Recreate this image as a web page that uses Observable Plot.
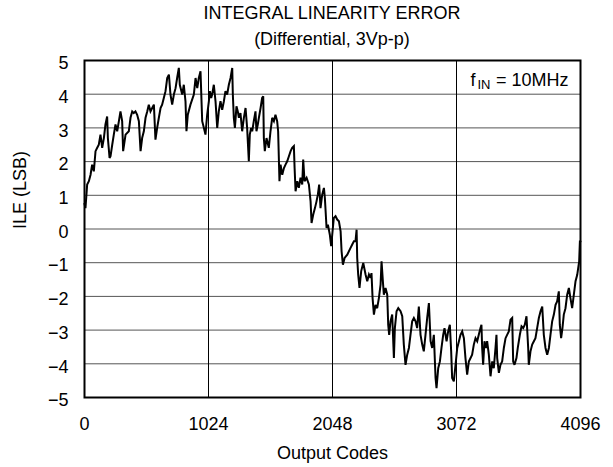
<!DOCTYPE html>
<html><head><meta charset="utf-8">
<script src="https://cdn.jsdelivr.net/npm/d3@7"></script>
<script src="https://cdn.jsdelivr.net/npm/@observablehq/plot@0.6"></script>
<style>
html,body{margin:0;padding:0;background:#fff;}
#wrap{position:relative;width:613px;height:467px;font-family:"Liberation Sans",Arial,Helvetica,sans-serif;color:#000;}
#head{position:relative;height:50px;}
.t{position:absolute;left:84px;width:496px;text-align:center;font-size:18px;line-height:22px;white-space:nowrap;}
</style></head><body>
<div id="wrap"><div id="head"><div class="t" id="title" style="top:2px"></div><div class="t" id="subtitle" style="top:28px"></div></div><div id="chart"></div></div>
<script>
const titleText = "INTEGRAL LINEARITY ERROR";
const subtitleText = "(Differential, 3Vp-p)";
const xLabel = "Output Codes";
const yLabel = "ILE (LSB)";
const xTicks = [0, 1024, 2048, 3072, 4096];
const yTicks = [-5, -4, -3, -2, -1, 0, 1, 2, 3, 4, 5];
const noteMain = "f";
const noteSub = "IN";
const noteRest = "= 10MHz";

const codes = [
  0,8,22,36,50,63,77,91,105,118,132,146,160,173,187,193,207,215,229,242,256,270,284,297,311,319,339,366,380,394,407,
  421,435,449,463,476,490,504,518,531,545,559,573,586,600,614,628,641,655,669,683,697,710,724,738,752,765,779,787,807,820,
  834,842,853,875,903,917,931,944,
  958,972,986,999,1013,1027,1035,1046,1054,1068,1082,1096,1109,1123,1137,1151,1164,1178,1192,1206,
  1220,1225,1233,1242,1255,1266,1275,1288,1302,1316,1330,1343,1357,1365,1376,1385,1398,1412,1420,1431,
  1440,1454,1467,1476,1481,1489,1503,1522,1536,1550,1564,1577,1591,1599,1610,
  1619,1633,1647,1660,1674,1688,1702,1715,1729,1735,1743,1757,1770,1784,1798,1806,1817,1834,1853,1867,
  1875,1889,1903,1916,1927,1938,1949,1963,1977,1985,1999,2010,2026,2037,2051,2059,2073,2087,2101,2115,
  2123,2134,2148,2170,2197,2211,2225,2238,2247,2252,2260,2271,2285,2302,2321,2335,2349,
  2362,2370,2379,2390,2403,2417,2431,2445,2453,2464,2472,2486,2500,2508,2516,2527,2541,2555,2563,2577,
  2591,2610,2624,2637,2651,2665,2679,2692,2706,2720,2734,2747,2761,2775,2789,2802,2816,2830,2844,2858,
  2871,2885,2899,2907,2921,2935,2948,2962,2973,2990,3003,3017,3028,3036,3050,3064,3078,3092,
  3105,3119,3133,3146,3160,3174,3188,3201,3215,3229,3243,3256,3270,3278,3284,3292,3303,3317,3325,3339,
  3353,3367,3380,3394,3402,3408,3422,3435,3449,3463,3477,3490,3504,3518,3532,3540,3551,3567,3578,3595,
  3609,3623,3636,3650,3664,3669,3683,3697,3711,3724,3738,3752,3766,3780,3793,3807,3821,3835,3848,3862,
  3876,3890,3903,3917,3925,3936,3947,3958,3972,3986,4000,4013,4027,4041,4055,4069,4077,4085,4091,4096
];
const ile = [
  0.75,0.62,1.32,1.42,1.61,1.91,1.71,2.31,2.41,2.50,2.80,2.41,2.70,3.10,3.34,2.70,2.11,2.16,2.50,2.80,3.10,2.90,3.20,3.49,3.20,2.31,2.80,2.90,3.30,3.49,3.44,
  3.49,3.39,3.20,2.31,2.70,2.90,3.30,3.49,3.69,3.49,3.59,3.69,2.65,3.00,3.30,3.59,3.69,3.89,4.09,4.48,4.58,3.99,3.69,3.99,4.18,4.48,4.78,4.28,3.99,4.28,
  3.79,2.90,3.39,3.69,3.99,4.48,4.18,4.48,
  4.68,3.20,3.00,2.80,3.39,3.79,4.09,3.89,3.99,4.28,3.79,3.00,3.49,3.79,3.54,3.79,4.09,3.99,4.28,4.48,
  4.78,3.99,3.30,3.00,3.64,3.49,3.30,3.44,2.90,3.30,3.59,3.00,2.01,2.80,3.00,2.90,3.20,3.49,2.90,3.10,
  3.30,3.59,3.89,3.94,2.70,2.31,2.70,2.41,2.90,3.30,3.20,3.39,3.20,2.90,1.42,
  1.91,1.61,1.81,1.91,2.01,2.16,2.31,2.41,2.46,1.81,1.12,1.42,1.22,1.52,1.32,2.06,1.42,1.52,1.32,0.82,
  0.18,0.43,0.62,0.82,1.02,1.32,0.62,1.02,1.22,0.92,0.03,0.13,-0.17,-0.51,0.03,0.33,0.38,0.28,0.23,-0.07,
  -0.66,-1.06,-0.86,-0.76,-0.56,-0.46,-0.36,-0.36,-0.02,-0.86,-1.35,-1.75,-1.25,-1.01,-1.35,-1.55,-1.35,
  -1.45,-1.31,-2.05,-2.54,-2.25,-2.35,-2.05,-1.65,-0.96,-1.55,-1.95,-1.75,-1.95,-2.84,-3.14,-2.74,-2.54,-3.83,-2.94,-2.44,
  -2.35,-2.44,-2.59,-3.43,-4.03,-3.73,-3.53,-3.14,-2.74,-2.64,-2.74,-2.94,-2.30,-3.14,-3.43,-3.63,-3.14,-2.64,-2.20,-3.33,
  -3.53,-3.14,-4.42,-4.72,-4.13,-3.93,-3.53,-3.14,-2.94,-3.33,-3.04,-2.84,-3.63,-4.42,-4.52,-4.03,-3.53,-3.33,
  -3.14,-3.04,-3.24,-3.83,-4.32,-3.93,-3.83,-3.73,-3.43,-3.24,-3.33,-3.14,-2.94,-2.84,-3.53,-4.03,-3.33,-3.53,-3.33,-3.73,
  -4.37,-3.93,-4.13,-3.53,-3.14,-3.83,-4.27,-4.03,-3.93,-3.53,-3.24,-3.14,-3.04,-2.69,-2.64,-3.93,-4.03,-3.83,-3.53,-3.14,
  -2.89,-2.94,-2.84,-2.59,-3.53,-4.03,-3.63,-3.43,-3.33,-3.24,-2.94,-2.64,-2.44,-2.30,-3.14,-3.53,-3.73,-3.53,-3.14,-2.74,
  -2.54,-2.25,-2.15,-1.85,-2.84,-3.24,-2.94,-2.54,-2.35,-1.95,-1.75,-2.05,-2.35,-1.95,-1.55,-1.36,-1.16,-0.96,-0.37,-0.37
];

document.getElementById("title").textContent = titleText;
document.getElementById("subtitle").textContent = subtitleText;

const data = codes.map((c, i) => ({code: c, ile: ile[i]}));

const chart = Plot.plot({
  width: 613, height: 417,
  marginLeft: 84, marginRight: 33, marginTop: 10, marginBottom: 70,
  style: {fontFamily: "'Liberation Sans', Arial, sans-serif", fontSize: "18px", background: "white", color: "black", overflow: "visible"},
  x: {domain: [0, 4096], label: null},
  y: {domain: [-5, 5], label: null},
  marks: [
    Plot.gridY(yTicks, {stroke: "#555", strokeOpacity: 1, strokeWidth: 1}),
    Plot.gridX(xTicks, {stroke: "#000", strokeOpacity: 1, strokeWidth: 1}),
    Plot.line(data, {x: "code", y: "ile", stroke: "black", strokeWidth: 2, strokeLinejoin: "miter", strokeMiterlimit: 3}),
    Plot.frame({stroke: "black", strokeWidth: 2}),
    Plot.axisX(xTicks, {tickSize: 0, tickPadding: 20, label: null, tickFormat: d => String(d)}),
    Plot.axisY(yTicks, {tickSize: 0, tickPadding: 16, dy: 3, label: null}),
    Plot.text([xLabel], {frameAnchor: "bottom", text: d => d, lineAnchor: "top", dy: 49}),
    Plot.text([yLabel], {frameAnchor: "left", text: d => d, rotate: -90, lineAnchor: "middle", dx: -64}),
    Plot.text([noteRest], {frameAnchor: "top-right", text: d => d, textAnchor: "end", lineAnchor: "bottom", dx: -12, dy: 25}),
    Plot.text([noteSub], {frameAnchor: "top-right", text: d => d, textAnchor: "end", lineAnchor: "bottom", dx: -90, dy: 28, fontSize: 13}),
    Plot.text([noteMain], {frameAnchor: "top-right", text: d => d, textAnchor: "end", lineAnchor: "bottom", dx: -105, dy: 25})
  ]
});
document.getElementById("chart").appendChild(chart);
</script>
</body></html>
